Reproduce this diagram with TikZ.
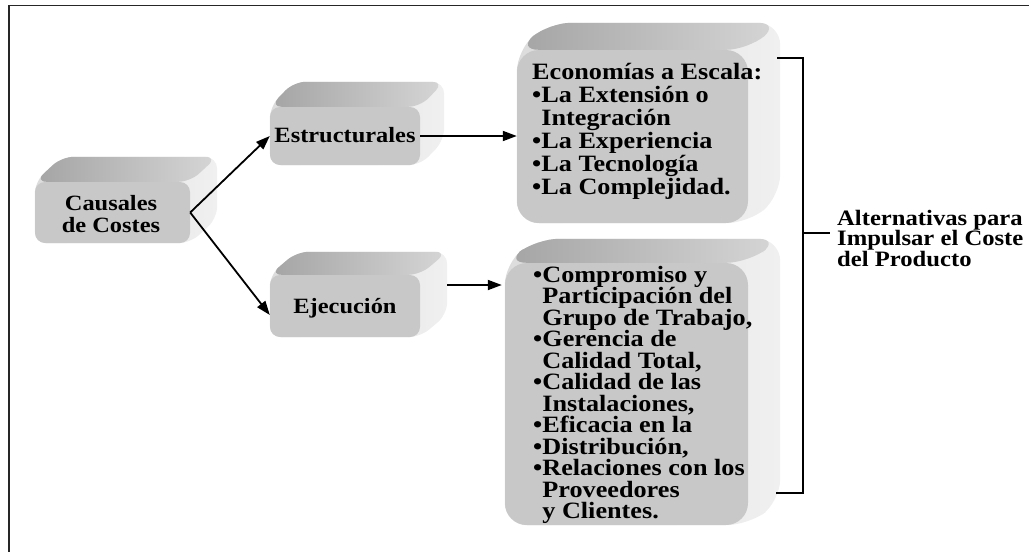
\documentclass[tikz,border=0pt]{standalone}
\usepackage{fontspec}
\setmainfont{Liberation Serif}[FakeStretch=1.12]
\usetikzlibrary{arrows.meta,backgrounds,calc}

% lines keep the exact baseline distance set by \fontsize
\AtBeginDocument{\lineskiplimit=-100pt\relax}

% two centred lines, first baseline is the box baseline
\newcommand\twolines[2]{\vtop{\halign{\hfil##\hfil\cr#1\cr#2\cr}}}
\newcommand\ind{\phantom{•}}

\definecolor{frontgray}{HTML}{C8C8C8}
\definecolor{sidegray}{HTML}{DCDCDC}
\definecolor{sidelight}{HTML}{F0F0F0}
\definecolor{topdark}{HTML}{A4A4A4}
\definecolor{toplight}{HTML}{D6D6D6}

% extrusion of a front face (node #1) by (#2 right, #3 up), corner radius #4
\newcommand\extrude[4]{%
  \begin{pgfonlayer}{background}
    \shade[left color=sidegray, right color=sidelight, rounded corners=#4]
      (#1.north west) -- ++(#2,-#3) -- ($(#1.north east)+(#2,-#3)$)
      -- ($(#1.south east)+(#2,-#3)$) -- (#1.south east) -- (#1.south west) -- cycle;
    \shade[left color=topdark, right color=toplight, rounded corners=#4]
      (#1.north west) -- ++(#2,-#3) -- ($(#1.north east)+(#2,-#3)$)
      -- (#1.north east) -- cycle;
  \end{pgfonlayer}}

\begin{document}
\begin{tikzpicture}[x=1pt,y=-1pt,
  face/.style={rectangle, fill=frontgray, inner sep=0pt},
  txt/.style={inner sep=0pt, text=black},
  smallfont/.style={font=\bfseries\fontsize{21.8}{22}\selectfont},
  bigfont/.style={font=\bfseries\fontsize{23.4}{#1}\selectfont},
  labelfont/.style={font=\bfseries\fontsize{22}{20.8}\selectfont},
  conn/.style={line width=1.8pt, -{Triangle[length=14pt,width=10pt]}},
  bracket/.style={line width=1.8pt},
  frame/.style={line width=1.8pt, black!85}]
\useasboundingbox (0,0) rectangle (1029,552);

% outer frame
\draw[frame] (9,552) -- (9,5.5) -- (1029,5.5);

% front faces of the bevelled boxes
\node[face, rounded corners=10pt, minimum width=155pt, minimum height=61pt] (cau) at (112.5,212.5) {};
\node[face, rounded corners=10pt, minimum width=150pt, minimum height=58pt] (est) at (345,136) {};
\node[face, rounded corners=10pt, minimum width=150pt, minimum height=62pt] (eje) at (345,306) {};
\node[face, rounded corners=22pt, minimum width=231pt, minimum height=173pt] (eco) at (632.5,136.5) {};
\node[face, rounded corners=22pt, minimum width=243pt, minimum height=262pt] (com) at (626.5,394) {};

% depth of each box
\extrude{cau}{27}{25}{12pt}
\extrude{est}{24}{25}{12pt}
\extrude{eje}{27}{23}{12pt}
\extrude{eco}{32}{27}{22pt}
\extrude{com}{32}{24}{22pt}

% texts
\node[txt, smallfont, anchor=base] (cautext) at (111,210) {\twolines{Causales}{de Costes}};
\node[txt, smallfont, anchor=base] (esttext) at (345,142) {Estructurales};
\node[txt, smallfont, anchor=base] (ejetext) at (345,313) {Ejecución};
\node[txt, bigfont=23, anchor=base west] (ecotext) at (532,79) {\vtop{%
  \hbox{Economías a Escala:}
  \hbox{•La Extensión o}
  \hbox{\ind Integración}
  \hbox{•La Experiencia}
  \hbox{•La Tecnología}
  \hbox{•La Complejidad.}}};
\node[txt, bigfont=21.5, anchor=base west] (comtext) at (533,282) {\vtop{%
  \hbox{•Compromiso y}
  \hbox{\ind Participación del}
  \hbox{\ind Grupo de Trabajo,}
  \hbox{•Gerencia de}
  \hbox{\ind Calidad Total,}
  \hbox{•Calidad de las}
  \hbox{\ind Instalaciones,}
  \hbox{•Eficacia en la}
  \hbox{•Distribución,}
  \hbox{•Relaciones con los}
  \hbox{\ind Proveedores}
  \hbox{\ind y Clientes.}}};
\node[txt, labelfont, anchor=base west] (alt) at (837,225) {\vtop{%
  \hbox{Alternativas para}
  \hbox{Impulsar el Coste}
  \hbox{del Producto}}};

% connectors
\draw[conn] (cau.east) -- (est.west);
\draw[conn] (cau.east) -- ($(eje.west)+(0,9)$);
\draw[conn] (est.east) -- (eco.west |- est.east);
\coordinate (ejeout) at ($(eje.east)+(27,-21)$);
\draw[conn] (ejeout) -- ($(ejeout -| com.west)+(-3,0)$);

% bracket grouping the two right boxes
\coordinate (brtop) at (803,58);
\coordinate (brbot) at (803,493);
\coordinate (brmid) at (803,233);
\draw[bracket] ($(brtop)+(-26,0)$) -- (brtop) -- (brbot) -- ($(brbot)+(-27,0)$);
\draw[bracket] (brmid) -- ($(brmid)+(27,0)$);
\end{tikzpicture}
\end{document}
